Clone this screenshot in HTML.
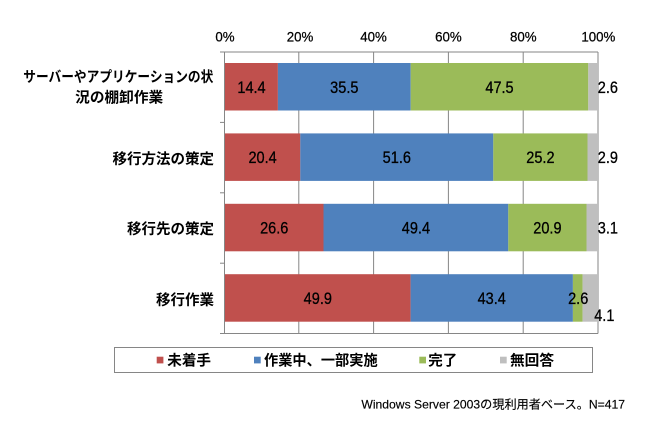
<!DOCTYPE html>
<html>
<head>
<meta charset="utf-8">
<style>
html,body{margin:0;padding:0;background:#fff;}
svg{display:block;}
.cat{font-family:"Liberation Sans","Noto Sans CJK JP",sans-serif;font-weight:bold;font-size:14.5px;fill:#000;}
.tick{font-family:"Liberation Sans",sans-serif;font-size:14px;fill:#000;stroke:#000;stroke-width:0.25px;}
.dl{font-family:"Liberation Sans",sans-serif;font-size:16.5px;fill:#000;stroke:#000;stroke-width:0.3px;}
.leg{font-family:"Liberation Sans","Noto Sans CJK JP",sans-serif;font-weight:bold;font-size:14.5px;fill:#000;}
.foot{font-family:"Liberation Sans","Noto Sans CJK JP",sans-serif;font-size:12px;fill:#000;stroke:#000;stroke-width:0.15px;}
</style>
</head>
<body>
<svg width="655" height="430" viewBox="0 0 655 430" xmlns="http://www.w3.org/2000/svg">
  <rect x="0" y="0" width="655" height="430" fill="#fff"/>

  <g stroke="#868686" stroke-width="1" fill="none">
    <line x1="224" y1="52" x2="598" y2="52"/>
    <line x1="598" y1="52" x2="598" y2="333.5"/>
    <line x1="298.8" y1="52" x2="298.8" y2="333.5"/>
    <line x1="373.6" y1="52" x2="373.6" y2="333.5"/>
    <line x1="448.4" y1="52" x2="448.4" y2="333.5"/>
    <line x1="523.2" y1="52" x2="523.2" y2="333.5"/>
    <line x1="224.5" y1="52" x2="224.5" y2="333.5"/>
    <line x1="220" y1="333.5" x2="598" y2="333.5"/>
    <line x1="220" y1="52" x2="224.5" y2="52"/>
    <line x1="220" y1="122.4" x2="224.5" y2="122.4"/>
    <line x1="220" y1="192.8" x2="224.5" y2="192.8"/>
    <line x1="220" y1="263.2" x2="224.5" y2="263.2"/>
  </g>

  <g class="tick" text-anchor="middle">
    <text transform="translate(225,41.5) scale(0.95,1)">0%</text>
    <text transform="translate(300,41.5) scale(0.95,1)">20%</text>
    <text transform="translate(373.5,41.5) scale(0.95,1)">40%</text>
    <text transform="translate(448.4,41.5) scale(0.95,1)">60%</text>
    <text transform="translate(523.3,41.5) scale(0.95,1)">80%</text>
    <text transform="translate(598.3,41.5) scale(0.95,1)">100%</text>
  </g>

  <rect x="225" y="63" width="52.9" height="47.5" fill="#C0504D"/>
  <rect x="277.9" y="63" width="132.8" height="47.5" fill="#4F81BD"/>
  <rect x="410.7" y="63" width="177.6" height="47.5" fill="#9BBB59"/>
  <rect x="588.3" y="63" width="9.7" height="47.5" fill="#BFBFBF"/>

  <rect x="225" y="133.4" width="75.3" height="47.5" fill="#C0504D"/>
  <rect x="300.3" y="133.4" width="193" height="47.5" fill="#4F81BD"/>
  <rect x="493.3" y="133.4" width="94.2" height="47.5" fill="#9BBB59"/>
  <rect x="587.5" y="133.4" width="10.5" height="47.5" fill="#BFBFBF"/>

  <rect x="225" y="203.8" width="98.5" height="47.5" fill="#C0504D"/>
  <rect x="323.5" y="203.8" width="184.8" height="47.5" fill="#4F81BD"/>
  <rect x="508.3" y="203.8" width="78.2" height="47.5" fill="#9BBB59"/>
  <rect x="586.5" y="203.8" width="11.5" height="47.5" fill="#BFBFBF"/>

  <rect x="225" y="274.2" width="185.6" height="47.5" fill="#C0504D"/>
  <rect x="410.6" y="274.2" width="162.3" height="47.5" fill="#4F81BD"/>
  <rect x="572.9" y="274.2" width="9.7" height="47.5" fill="#9BBB59"/>
  <rect x="582.6" y="274.2" width="15.4" height="47.5" fill="#BFBFBF"/>

  <g class="dl" text-anchor="middle">
    <text transform="translate(251.5,92.8) scale(0.88,1)">14.4</text>
    <text transform="translate(344.3,92.8) scale(0.88,1)">35.5</text>
    <text transform="translate(499.5,92.8) scale(0.88,1)">47.5</text>

    <text transform="translate(262.6,163.2) scale(0.88,1)">20.4</text>
    <text transform="translate(396.8,163.2) scale(0.88,1)">51.6</text>
    <text transform="translate(540.4,163.2) scale(0.88,1)">25.2</text>

    <text transform="translate(274.2,233.6) scale(0.88,1)">26.6</text>
    <text transform="translate(415.9,233.6) scale(0.88,1)">49.4</text>
    <text transform="translate(547.4,233.6) scale(0.88,1)">20.9</text>

    <text transform="translate(317.8,304) scale(0.88,1)">49.9</text>
    <text transform="translate(491.7,304) scale(0.88,1)">43.4</text>
    <text transform="translate(578.2,304) scale(0.88,1)">2.6</text>
    <text transform="translate(604.3,321) scale(0.88,1)">4.1</text>
  </g>
  <g class="dl" text-anchor="start">
    <text transform="translate(597.8,92.8) scale(0.88,1)">2.6</text>
    <text transform="translate(597.8,163.2) scale(0.88,1)">2.9</text>
    <text transform="translate(597.8,233.6) scale(0.88,1)">3.1</text>
  </g>

  <g class="cat">
    <text x="118.3" y="82.2" text-anchor="middle" textLength="190" lengthAdjust="spacingAndGlyphs">サーバーやアプリケーションの状</text>
    <text x="119.2" y="102.4" text-anchor="middle" textLength="88" lengthAdjust="spacingAndGlyphs">況の棚卸作業</text>
    <text x="214" y="163.8" text-anchor="end">移行方法の策定</text>
    <text x="214" y="233.8" text-anchor="end">移行先の策定</text>
    <text x="214" y="304.8" text-anchor="end">移行作業</text>
  </g>

  <rect x="114.5" y="347.5" width="478" height="25" fill="#fff" stroke="#868686" stroke-width="1"/>
  <rect x="156.7" y="356.7" width="6.7" height="6.7" fill="#C0504D"/>
  <rect x="254" y="356.7" width="6.7" height="6.7" fill="#4F81BD"/>
  <rect x="419.3" y="356.7" width="6.7" height="6.7" fill="#9BBB59"/>
  <rect x="500" y="356.7" width="6.7" height="6.7" fill="#BFBFBF"/>
  <g class="leg">
    <text x="167.3" y="365.3" textLength="43.7" lengthAdjust="spacingAndGlyphs">未着手</text>
    <text x="264" y="365.3" textLength="113.7" lengthAdjust="spacingAndGlyphs">作業中、一部実施</text>
    <text x="428.3" y="365.3" textLength="29" lengthAdjust="spacingAndGlyphs">完了</text>
    <text x="510" y="365.3" textLength="44" lengthAdjust="spacingAndGlyphs">無回答</text>
  </g>

  <text class="foot" x="361.4" y="408.5" textLength="263.6" lengthAdjust="spacingAndGlyphs">Windows Server 2003の現利用者ベース。N=417</text>
</svg>
</body>
</html>
